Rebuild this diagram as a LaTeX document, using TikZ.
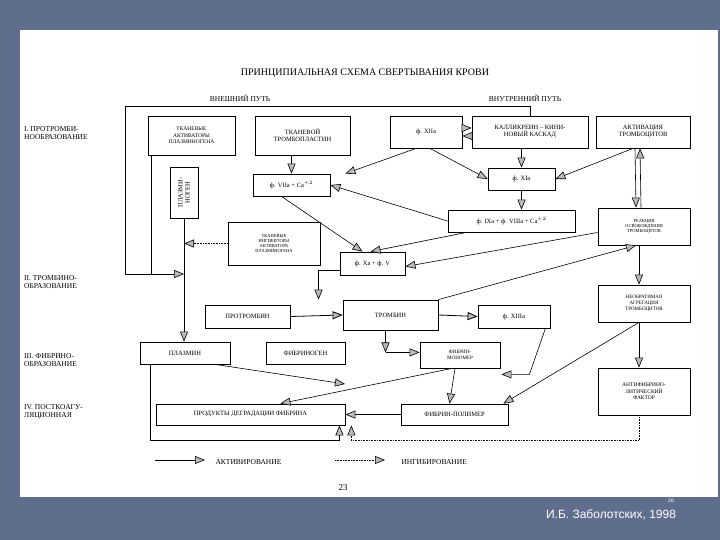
\documentclass[tikz,border=0pt]{standalone}
\usepackage{fontspec}
\setmainfont{Liberation Serif}
\newfontfamily\sansf{Liberation Sans}
\usetikzlibrary{arrows.meta,calc}
\begin{document}
\begin{tikzpicture}[x=1pt,y=-1pt,
  box/.style={draw,thick,inner sep=1pt,align=center,font=\fontsize{6.5}{7}\selectfont},
  lbl/.style={align=left,font=\fontsize{7.5}{8.5}\selectfont,inner sep=0pt},
  act/.style={-{Triangle[length=10pt,width=8pt,fill=gray!55]},semithick},
  inh/.style={densely dotted,-{Triangle[length=10pt,width=8pt,fill=gray!55]},semithick},
  ln/.style={semithick}]
\useasboundingbox (0,0) rectangle (720,540);
\fill[fill={rgb,255:red,96;green,110;blue,142}] (0,0) rectangle (720,540);
\fill[white] (20,30) rectangle (718,497);
\node[font=\fontsize{10}{11}\selectfont] (title) at (365,73) {ПРИНЦИПИАЛЬНАЯ СХЕМА СВЕРТЫВАНИЯ КРОВИ};
\node[font=\fontsize{7.5}{8}\selectfont] (ext) at (240,98) {ВНЕШНИЙ ПУТЬ};
\node[font=\fontsize{7.5}{8}\selectfont] (int) at (525,98) {ВНУТРЕННИЙ ПУТЬ};
\node[lbl,anchor=west] (L1) at (24,133) {I. ПРОТРОМБИ-\\НООБРАЗОВАНИЕ};
\node[lbl,anchor=west] (L2) at (24,282) {II. ТРОМБИНО-\\ОБРАЗОВАНИЕ};
\node[lbl,anchor=west] (L3) at (24,360) {III. ФИБРИНО-\\ОБРАЗОВАНИЕ};
\node[lbl,anchor=west] (L4) at (24,412) {IV. ПОСТКОАГУ-\\ЛЯЦИОННАЯ};
% boxes
\node[box,minimum width=87,minimum height=39,font=\fontsize{5.5}{6.5}\selectfont] (tact) at (191.5,135.5) {ТКАНЕВЫЕ\\АКТИВАТОРЫ\\ПЛАЗМИНОГЕНА};
\node[box,minimum width=95,minimum height=39] (ttp) at (302.5,135.5) {ТКАНЕВОЙ\\ТРОМБОПЛАСТИН};
\node[box,minimum width=72,minimum height=32] (f12) at (426,132) {ф. XIIа};
\node[box,minimum width=116,minimum height=32] (kal) at (530,132) {КАЛЛИКРЕИН – КИНИ-\\НОВЫЙ КАСКАД};
\node[box,minimum width=94,minimum height=32] (apl) at (643,132) {АКТИВАЦИЯ\\ТРОМБОЦИТОВ};
\node[box,minimum width=77,minimum height=22] (f7) at (291.5,185) {ф. VIIа + Ca$^{+2}$};
\node[box,minimum width=67,minimum height=22] (f11) at (521.5,179) {ф. XIа};
\node[box,minimum width=127,minimum height=22] (f9) at (511.5,221) {ф. IXа + ф. VIIIа + Ca$^{+2}$};
\node[box,minimum width=28,minimum height=51] (plg) at (184,192.5) {};
\node[rotate=90,font=\fontsize{6.5}{7}\selectfont,align=center] (plgt) at (plg.center) {ПЛАЗМИ-\\НОГЕН};
\node[box,minimum width=92,minimum height=43,font=\fontsize{4.5}{5.3}\selectfont] (tinh) at (274,243.5) {ТКАНЕВЫЕ\\ИНГИБИТОРЫ\\АКТИВАТОРА\\ПЛАЗМИНОГЕНА};
\node[box,minimum width=65,minimum height=23] (f10) at (372.5,263.5) {ф. Xа + ф. V};
\node[box,minimum width=92,minimum height=37,font=\fontsize{4.5}{5.3}\selectfont] (rel) at (644,226.5) {РЕАКЦИЯ\\ОСВОБОЖДЕНИЯ\\ТРОМБОЦИТОВ};
\node[box,minimum width=92,minimum height=37,font=\fontsize{5}{6}\selectfont] (agg) at (644,303.5) {НЕОБРАТИМАЯ\\АГРЕГАЦИЯ\\ТРОМБОЦИТОВ};
\node[box,minimum width=85,minimum height=23] (prt) at (247.5,316.5) {ПРОТРОМБИН};
\node[box,minimum width=95,minimum height=30] (thr) at (390.5,315) {ТРОМБИН};
\node[box,minimum width=72,minimum height=23] (f13) at (514,316.5) {ф. XIIIа};
\node[box,minimum width=90,minimum height=22] (pls) at (185,353) {ПЛАЗМИН};
\node[box,minimum width=79,minimum height=22] (fbg) at (305.5,353) {ФИБРИНОГЕН};
\node[box,minimum width=80,minimum height=26,font=\fontsize{5}{6}\selectfont] (fmn) at (460,355) {ФИБРИН-\\МОНОМЕР};
\node[box,minimum width=92,minimum height=47,font=\fontsize{5.5}{6.5}\selectfont] (afb) at (644,391.5) {АНТИФИБРИНО-\\ЛИТИЧЕСКИЙ\\ФАКТОР};
\node[box,minimum width=189,minimum height=21] (pdf) at (250.5,414.5) {ПРОДУКТЫ ДЕГРАДАЦИИ ФИБРИНА};
\node[box,minimum width=107,minimum height=21] (fpl) at (454.5,414.5) {ФИБРИН-ПОЛИМЕР};
% coordinates
\coordinate (tl) at (125,106);
\coordinate (tlb) at (125,274);
\coordinate (pj) at (184,274);
\coordinate (mid) at (345,384);
\coordinate (tq) at ([xshift=-5,yshift=-22]thr.south);
% top line
\draw[ln] (tlb) -- (tl) -- (kal.north |- tl) -- (kal.north);
\draw[ln] ([xshift=-40]tact.south) -- ([xshift=-40]tact.south |- pj);
\draw[act] (tlb) -- (pj);
\draw[act] (plg.south) -- (pls.north -| plg.south);
\draw[inh] (tinh.west) -- (tinh.west -| plg.south);
% prothrombin formation
\draw[act] (ttp.south -| f7.north) -- (f7.north);
\draw[act] ([xshift=-10]f12.south) -- ([xshift=15]f7.north east);
\draw[act] ([yshift=4]f12.east) -- ([yshift=4]kal.west);
\draw[act] ([yshift=-4]kal.west) -- ([yshift=-4]f12.east);
\draw[act] ([xshift=4]f12.south) -- (f11.west);
\draw[act] (kal.south -| f11.north) -- (f11.north);
\draw[act] ([xshift=-10]apl.south) -- (f11.east);
\draw[act] (f11.south) -- (f9.north -| f11.south);
\draw[act] (f9.west) -- (f7.east);
\draw[act] ([xshift=-10]f7.south) -- ([xshift=-10]f10.north);
\draw[act] ([xshift=-45]f9.south) -- ([xshift=-2]f10.north);
\draw[act] ([xshift=-8]apl.south) -- ([xshift=-8]rel.north);
\draw[act] ([xshift=-3]rel.north) -- ([xshift=-3]apl.south);
\draw[act] ([yshift=-6]rel.west) -- ([yshift=-3]f10.east);
\draw[act] (thr.north east) -- ([xshift=-8]rel.south);
\draw[act] ([xshift=-5]rel.south) -- ([xshift=-5]agg.north);
% thrombin formation
\draw[act] ([yshift=5]f10.south west) -| ([xshift=-72]thr.north);
\draw[act,thick] (prt.east) -- (thr.west);
\draw[act,thick] (thr.east) -- (f13.west);
\draw[act] ([xshift=-5]thr.south) -- (tq);
\draw[act] (tq) -- (tq -| fmn.west);
% fibrin formation
\draw[act] ([xshift=-5]fmn.south) -- ([xshift=-5]fpl.north);
\draw[act] ([xshift=-5]f13.south east) -- ++(-16,46) -- ++(-28,0);
\draw[act] ([xshift=-5]agg.south) -- ([xshift=-5]fpl.north east);
\draw[act] ([xshift=-5]agg.south) -- ([xshift=-5]afb.north);
\draw[act] ([xshift=30]pls.south) -- (mid);
\draw[act] ([xshift=-8]fmn.south) -- ([xshift=-65]pdf.north east);
\draw[act] (fpl.west) -- (pdf.east);
\draw[act] ([xshift=-35]pls.south) -- ++(0,76) -| ([xshift=-6]pdf.south east);
\draw[inh] ([xshift=-5]afb.south) -- ++(0,25) -| ([xshift=6]pdf.south east);
% legend
\coordinate (a1) at (155,460); \coordinate (a2) at (205,460);
\coordinate (b1) at (335,460); \coordinate (b2) at (385,460);
\draw[act] (a1) -- (a2);
\draw[inh] (b1) -- (b2);
\node[font=\fontsize{7.5}{8}\selectfont,anchor=west] (la) at (212,462) {АКТИВИРОВАНИЕ};
\node[font=\fontsize{7.5}{8}\selectfont,anchor=west] (lb) at (398,462) {ИНГИБИРОВАНИЕ};
\node[font=\fontsize{9}{10}\selectfont] (pg) at (343,488) {23};
\node[font=\sansf\fontsize{5}{6}\selectfont,text=white] (pn) at (671,501) {26};
\node[font=\sansf\fontsize{12}{14}\selectfont,text=white] (au) at (611,515) {И.Б. Заболотских, 1998};
\end{tikzpicture}
\end{document}
